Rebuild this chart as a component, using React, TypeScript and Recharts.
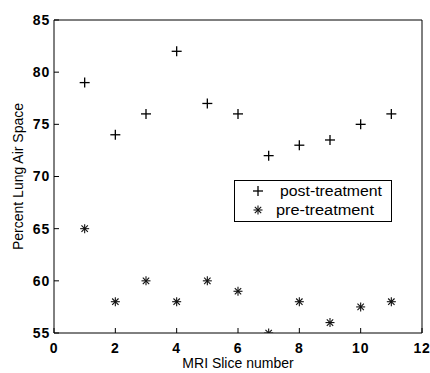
import { ScatterChart, Scatter, XAxis, YAxis, Legend } from 'recharts';

const slices = [1, 2, 3, 4, 5, 6, 7, 8, 9, 10, 11];
const postTreatment = [79, 74, 76, 82, 77, 76, 72, 73, 73.5, 75, 76];
const preTreatment = [65, 58, 60, 58, 60, 59, 55, 58, 56, 57.5, 58];
const xTicks = [0, 2, 4, 6, 8, 10, 12];
const yTicks = [55, 60, 65, 70, 75, 80, 85];

const postData = slices.map((s, i) => ({ slice: s, value: postTreatment[i] }));
const preData = slices.map((s, i) => ({ slice: s, value: preTreatment[i] }));

const font = "'Liberation Sans', Arial, Helvetica, sans-serif";
const tickStyle = { fontFamily: font, fontSize: 14, fontWeight: 'bold' as const, fill: '#000', letterSpacing: 0.8 };

function PlusMark({ cx, cy }: any) {
  const r = 5;
  return (
    <g stroke="#000" strokeWidth={1.3}>
      <line x1={cx - r} y1={cy} x2={cx + r} y2={cy} />
      <line x1={cx} y1={cy - r} x2={cx} y2={cy + r} />
    </g>
  );
}

function StarMark({ cx, cy }: any) {
  const r = 4.5;
  const d = 3.2;
  return (
    <g stroke="#111" strokeWidth={1.1}>
      <line x1={cx - r} y1={cy} x2={cx + r} y2={cy} />
      <line x1={cx} y1={cy - r} x2={cx} y2={cy + r} />
      <line x1={cx - d} y1={cy - d} x2={cx + d} y2={cy + d} />
      <line x1={cx - d} y1={cy + d} x2={cx + d} y2={cy - d} />
    </g>
  );
}

function LegendBox() {
  return (
    <svg width={158} height={42} style={{ display: 'block' }}>
      <rect x={0.5} y={0.5} width={157} height={41} fill="#fff" stroke="#000" strokeWidth={1} />
      <PlusMark cx={24} cy={11} />
      <text x={46} y={16} fontFamily={font} fontSize={14} fill="#000" textLength={102} lengthAdjust="spacingAndGlyphs">
        post-treatment
      </text>
      <StarMark cx={24} cy={30} />
      <text x={42} y={35} fontFamily={font} fontSize={14} fill="#000" textLength={98} lengthAdjust="spacingAndGlyphs">
        pre-treatment
      </text>
    </svg>
  );
}

function YTitle({ viewBox }: any) {
  const x = viewBox.x + 23;
  const y = viewBox.y + viewBox.height / 2;
  return (
    <text x={x} y={y} transform={`rotate(-90 ${x} ${y})`} textAnchor="middle" fontFamily={font} fontSize={14} fill="#000">
      Percent Lung Air Space
    </text>
  );
}

function XTitle({ viewBox }: any) {
  const x = viewBox.x + viewBox.width / 2;
  const y = viewBox.y + 35;
  return (
    <text x={x} y={y} textAnchor="middle" fontFamily={font} fontSize={14} fill="#000">
      MRI Slice number
    </text>
  );
}

export default function App() {
  return (
    <div style={{ position: 'absolute', left: 0, top: 0, background: '#fff' }}>
      <ScatterChart width={430} height={373} margin={{ top: 0, right: 0, bottom: 0, left: 0 }}>
        <XAxis
          xAxisId="b"
          type="number"
          dataKey="slice"
          domain={[0, 12]}
          ticks={xTicks}
          allowDataOverflow
          orientation="bottom"
          height={40}
          tickSize={-5}
          tickMargin={15}
          tick={tickStyle}
          stroke="#000"
          label={<XTitle />}
        />
        <XAxis
          xAxisId="t"
          type="number"
          domain={[0, 12]}
          ticks={xTicks}
          allowDataOverflow
          orientation="top"
          height={20}
          tickSize={-5}
          tick={false}
          stroke="#000"
        />
        <YAxis
          yAxisId="l"
          type="number"
          dataKey="value"
          domain={[55, 85]}
          ticks={yTicks}
          allowDataOverflow
          orientation="left"
          width={54}
          tickSize={-5}
          tickMargin={9}
          tick={tickStyle}
          stroke="#000"
          label={<YTitle />}
        />
        <YAxis
          yAxisId="r"
          type="number"
          domain={[55, 85]}
          ticks={yTicks}
          allowDataOverflow
          orientation="right"
          width={8}
          tickSize={-5}
          tick={false}
          stroke="#000"
        />
        <Legend
          layout="vertical"
          align="center"
          verticalAlign="middle"
          content={<LegendBox />}
          wrapperStyle={{ left: 234, top: 180, width: 158, height: 42 }}
        />
        <Scatter
          name="post-treatment"
          data={postData}
          xAxisId="b"
          yAxisId="l"
          shape={<PlusMark />}
          isAnimationActive={false}
        />
        <Scatter
          name="pre-treatment"
          data={preData}
          xAxisId="b"
          yAxisId="l"
          shape={<StarMark />}
          isAnimationActive={false}
        />
      </ScatterChart>
    </div>
  );
}
